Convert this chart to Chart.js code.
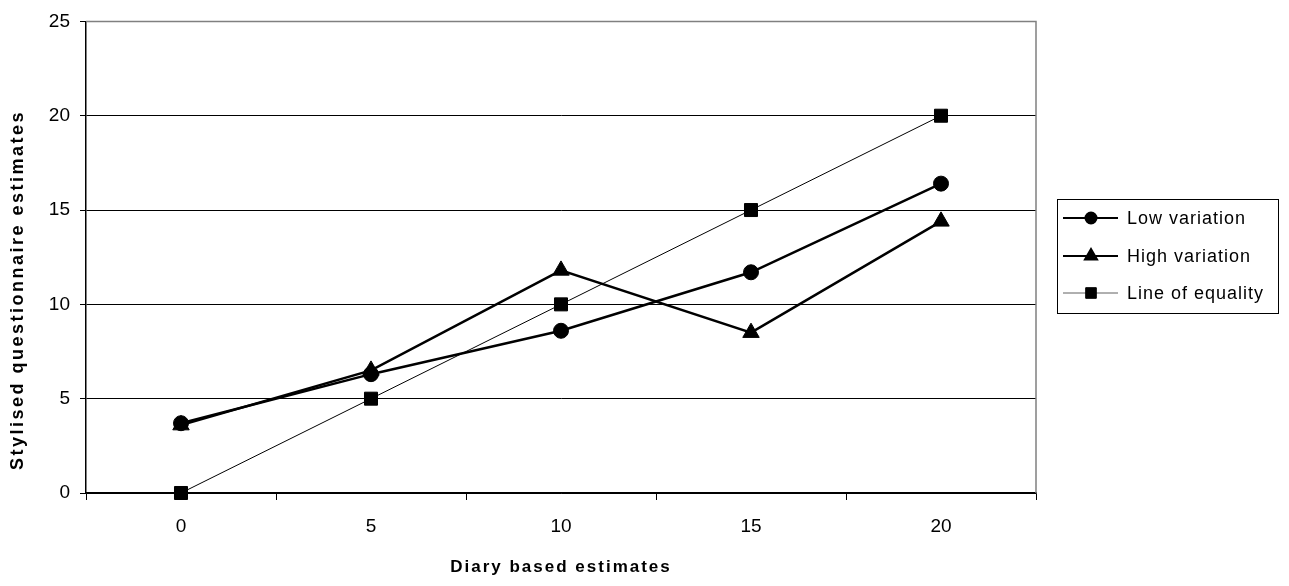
<!DOCTYPE html>
<html>
<head>
<meta charset="utf-8">
<script src="https://cdn.jsdelivr.net/npm/chart.js@4/dist/chart.umd.min.js"></script>
<style>
  html, body { margin: 0; padding: 0; background: #fff; }
  #wrap { width: 1289px; height: 586px; }
</style>
</head>
<body>
<div id="wrap"><canvas id="chart"></canvas></div>
<script>
const categories = ["0", "5", "10", "15", "20"];
const lowVariation = [3.7, 6.3, 8.6, 11.7, 16.4];
const highVariation = [3.6, 6.5, 11.8, 8.5, 14.4];
const lineOfEquality = [0, 5, 10, 15, 20];
const yTicks = [0, 5, 10, 15, 20, 25];

const FONT = "'Liberation Sans', Arial, sans-serif";
// smaller markers in the legend than on the lines
const legendRadius = [5.5, 7, 7.5];

// box round the plot + axis titles + legend
const decorPlugin = {
    id: "decor",
    beforeDatasetsDraw(chart) {
        const { ctx, chartArea: a } = chart;
        ctx.save();
        ctx.strokeStyle = "#808080";
        ctx.lineWidth = 1.5;
        ctx.beginPath();
        ctx.moveTo(a.left, a.top);
        ctx.lineTo(a.right, a.top);
        ctx.lineTo(a.right, a.bottom);
        ctx.stroke();
        ctx.restore();
    },
    afterDraw(chart) {
        const { ctx, chartArea: a } = chart;
        ctx.save();
        ctx.fillStyle = "#000";
        ctx.font = "bold 17px " + FONT;
        ctx.letterSpacing = "2px";
        ctx.textAlign = "center";
        ctx.textBaseline = "middle";
        ctx.fillText("Diary based estimates", (a.left + a.right) / 2, 567);
        ctx.font = "bold 18px " + FONT;
        ctx.letterSpacing = "2.5px";
        ctx.translate(18, 290);
        ctx.rotate(-Math.PI / 2);
        ctx.fillText("Stylised questionnaire estimates", 0, 0);
        ctx.restore();

        // legend
        ctx.save();
        ctx.strokeStyle = "#000";
        ctx.lineWidth = 1;
        ctx.strokeRect(1057.5, 199.5, 221, 114);
        ctx.font = "18px " + FONT;
        ctx.letterSpacing = "1px";
        ctx.textAlign = "left";
        ctx.textBaseline = "middle";
        const rows = [218, 256, 293];
        chart.data.datasets.forEach((ds, i) => {
            const y = rows[i];
            ctx.strokeStyle = i === 2 ? "#606060" : "#000";
            ctx.lineWidth = i === 2 ? 1 : 2;
            ctx.beginPath();
            ctx.moveTo(1063, y);
            ctx.lineTo(1118, y);
            ctx.stroke();
            ctx.strokeStyle = "#000";
            Chart.helpers.drawPoint(ctx, {
                pointStyle: ds.pointStyle,
                radius: legendRadius[i],
                borderWidth: 1,
                rotation: 0
            }, 1091, y);
            ctx.fillStyle = "#000";
            ctx.fillText(ds.label, 1127, y + 1);
        });
        ctx.restore();
    }
};

new Chart(document.getElementById("chart"), {
    type: "line",
    data: {
        labels: categories,
        datasets: [
            {
                label: "Low variation",
                data: lowVariation,
                borderColor: "#000",
                backgroundColor: "#000",
                borderWidth: 2.5,
                pointStyle: "circle",
                pointRadius: 7.5,
                pointBorderWidth: 1,
                clip: false,
            },
            {
                label: "High variation",
                data: highVariation,
                borderColor: "#000",
                backgroundColor: "#000",
                borderWidth: 2.5,
                pointStyle: "triangle",
                pointRadius: 9.5,
                pointBorderWidth: 1,
                clip: false,
            },
            {
                label: "Line of equality",
                data: lineOfEquality,
                borderColor: "#000",
                backgroundColor: "#000",
                borderWidth: 1,
                pointStyle: "rect",
                pointRadius: 9.2,
                pointBorderWidth: 1,
                clip: false,
            },
        ],
    },
    options: {
        responsive: true,
        maintainAspectRatio: false,
        animation: false,
        layout: { padding: { left: 0, top: 20, right: 253, bottom: 0 } },
        plugins: {
            legend: { display: false },
            tooltip: { enabled: false },
        },
        scales: {
            x: {
                offset: true,
                grid: {
                    offset: true,
                    drawOnChartArea: false,
                    drawTicks: true,
                    tickLength: 7,
                    color: "#000",
                },
                border: { color: "#000", width: 1.5 },
                ticks: {
                    color: "#000",
                    font: { family: FONT, size: 19 },
                    padding: 15,
                    maxRotation: 0,
                },
                afterFit(scale) {
                    scale.height = 93;
                },
            },
            y: {
                min: 0,
                max: 25,
                afterBuildTicks(scale) {
                    scale.ticks = yTicks.map((v) => ({ value: v }));
                },
                grid: {
                    color: "#000",
                    lineWidth: 1,
                    drawTicks: true,
                    tickLength: 6,
                },
                border: { color: "#000", width: 1.5 },
                ticks: {
                    color: "#000",
                    font: { family: FONT, size: 19 },
                    padding: 10,
                },
                afterFit(scale) {
                    scale.width = 86;
                },
            },
        },
    },
    plugins: [decorPlugin],
});
</script>
</body>
</html>
